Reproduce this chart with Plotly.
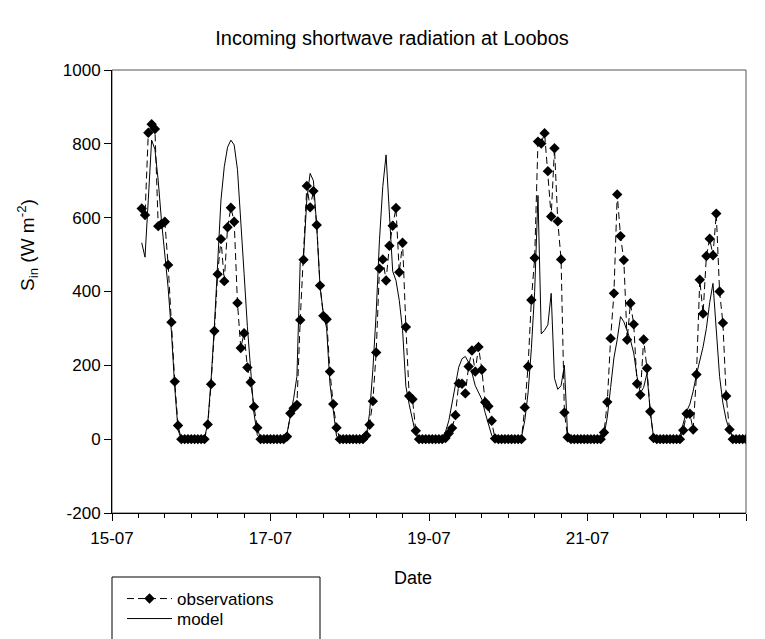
import pandas as pd
import plotly.graph_objects as go

# Hourly values, W m-2 (15-07 starts at 09:00; other days 00:00-23:00; last value 23-07 00:00)
obs_15 = [625, 607, 830, 853, 840, 577, 583, 589, 472, 317, 156, 37, 0, 0, 0]
obs_16 = [0, 0, 0, 0, 0, 40, 149, 293, 447, 542, 428, 574, 627, 589, 369, 247, 287, 194, 154, 88, 31, 0, 0, 0]
obs_17 = [0, 0, 0, 0, 0, 7, 70, 84, 93, 323, 486, 686, 628, 672, 580, 416, 334, 325, 183, 95, 31, 0, 0, 0]
obs_18 = [0, 0, 0, 0, 0, 10, 39, 103, 235, 462, 487, 430, 524, 578, 626, 452, 532, 304, 117, 108, 23, 0, 0, 0]
obs_19 = [0, 0, 0, 0, 0, 3, 16, 30, 65, 151, 150, 124, 197, 240, 183, 250, 188, 100, 89, 50, 2, 0, 0, 0]
obs_20 = [0, 0, 0, 0, 0, 86, 197, 377, 491, 806, 801, 829, 726, 603, 788, 590, 487, 72, 5, 0, 0, 0, 0, 0]
obs_21 = [0, 0, 0, 0, 0, 18, 101, 273, 395, 663, 550, 485, 269, 368, 311, 150, 120, 270, 192, 75, 3, 0, 0, 0]
obs_22 = [0, 0, 0, 0, 0, 24, 69, 69, 26, 175, 432, 340, 496, 543, 498, 611, 400, 315, 117, 26, 0, 0, 0, 0]
obs_23 = [0]

mod_15 = [532, 493, 650, 810, 785, 700, 590, 500, 410, 290, 140, 25, 0, 0, 0]
mod_16 = [0, 0, 0, 0, 2, 43, 160, 305, 486, 648, 738, 791, 810, 797, 730, 603, 449, 305, 178, 70, 12, 0, 0, 0]
mod_17 = [0, 0, 0, 0, 0, 15, 60, 110, 170, 480, 490, 650, 720, 700, 576, 414, 341, 300, 150, 70, 8, 0, 0, 0]
mod_18 = [0, 0, 0, 0, 0, 7, 70, 188, 341, 540, 684, 770, 615, 455, 430, 376, 295, 143, 94, 53, 12, 0, 0, 0]
mod_19 = [0, 0, 0, 0, 5, 20, 50, 100, 150, 195, 218, 224, 208, 180, 145, 125, 108, 72, 40, 10, 0, 0, 0, 0]
mod_20 = [0, 0, 0, 0, 5, 50, 125, 245, 400, 660, 285, 295, 310, 395, 165, 135, 145, 200, 5, 0, 0, 0, 0, 0]
mod_21 = [0, 0, 0, 0, 0, 10, 60, 140, 220, 270, 332, 318, 296, 269, 233, 170, 125, 140, 178, 75, 5, 0, 0, 0]
mod_22 = [0, 0, 0, 0, 10, 40, 75, 95, 130, 175, 215, 250, 300, 370, 422, 290, 170, 98, 52, 25, 7, 0, 0, 0]
mod_23 = [0]

y_tickvals = [-200, 0, 200, 400, 600, 800, 1000]
y_ticktext = ["-200", "0", "200", "400", "600", "800", "1000"]

obs = obs_15 + obs_16 + obs_17 + obs_18 + obs_19 + obs_20 + obs_21 + obs_22 + obs_23
model = mod_15 + mod_16 + mod_17 + mod_18 + mod_19 + mod_20 + mod_21 + mod_22 + mod_23
times = pd.date_range("2008-07-15 09:00", periods=len(obs), freq="h")

FONT = "Liberation Sans, Arial, sans-serif"

fig = go.Figure()
fig.add_trace(go.Scatter(
    x=times, y=obs, mode="lines+markers", name="observations", legend="legend",
    line=dict(color="black", width=1, dash="7px,4px"),
    marker=dict(symbol="diamond", size=8, color="black"),
))
fig.add_trace(go.Scatter(
    x=times, y=model, mode="lines", name="model", legend="legend2",
    line=dict(color="black", width=1),
))

W, H = 765, 639
L, R, T, B = 112, 19, 70, 126
pw, ph = W - L - R, H - T - B

def px_x(px):
    return (px - L) / pw

def px_y(py):
    return (H - B - py) / ph

leg_common = dict(x=px_x(122), xanchor="left", yanchor="middle",
                  bgcolor="rgba(0,0,0,0)", borderwidth=0,
                  font=dict(size=17, family=FONT, color="black"), itemwidth=45)

fig.update_layout(
    width=W, height=H,
    margin=dict(l=L, r=R, t=T, b=B, autoexpand=False),
    paper_bgcolor="white", plot_bgcolor="white",
    font=dict(family=FONT, size=17, color="black"),
    title=dict(text="Incoming shortwave radiation at Loobos", x=392 / W, xanchor="center",
               y=1 - 38 / H, yanchor="middle", xref="container", yref="container",
               font=dict(size=20, family=FONT, color="black")),
    showlegend=True,
    legend=dict(y=px_y(599), **leg_common),
    legend2=dict(y=px_y(619), **leg_common),
    xaxis=dict(
        type="date", range=["2008-07-15 00:00", "2008-07-23 00:00"],
        tick0="2008-07-15", dtick=2 * 86400000, tickformat="%d-%m",
        ticks="outside", ticklen=7, tickcolor="black", tickwidth=1,
        ticklabelstandoff=3,
        showline=True, linecolor="black", linewidth=1,
        showgrid=False, zeroline=False, automargin=False,
        minor=dict(dtick=8 * 3600000, ticks="outside", ticklen=4, tickcolor="black", showgrid=False),
        tickfont=dict(size=17),
    ),
    yaxis=dict(
        range=[-200, 1000], tickvals=y_tickvals, ticktext=y_ticktext,
        ticks="outside", ticklen=7, tickcolor="black", tickwidth=1,
        showline=True, linecolor="black", linewidth=1, automargin=False,
        showgrid=False, zeroline=False, tickfont=dict(size=17),
    ),
    shapes=[
        dict(type="rect", xref="paper", yref="paper", x0=0, x1=1, y0=0, y1=1,
             line=dict(color="#555555", width=1), layer="below"),
        dict(type="rect", xref="paper", yref="paper", x0=0, x1=px_x(320),
             y0=px_y(577), y1=px_y(660), line=dict(color="black", width=1), layer="above"),
    ],
    annotations=[
        dict(text="Date", xref="paper", yref="paper", x=px_x(413), y=px_y(578),
             xanchor="center", yanchor="middle", showarrow=False, font=dict(size=18)),
        dict(text="S<sub>in</sub> (W m<sup>-2</sup>)", xref="paper", yref="paper",
             x=px_x(27), y=px_y(245), xanchor="center", yanchor="middle", textangle=-90,
             showarrow=False, font=dict(size=19)),
    ],
)

fig.write_html("out.html")
